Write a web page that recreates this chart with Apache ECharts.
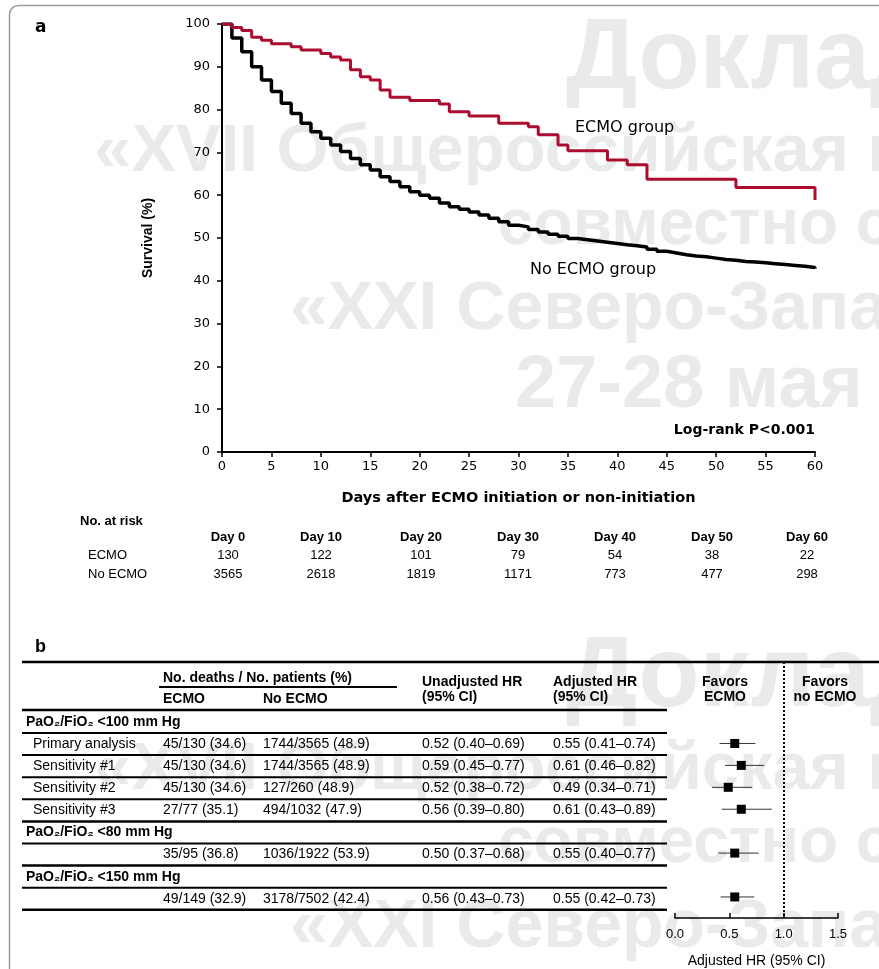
<!DOCTYPE html>
<html><head><meta charset="utf-8">
<script src="https://cdn.jsdelivr.net/npm/echarts@6/dist/echarts.min.js"></script>
<style>html,body{margin:0;padding:0;background:#fff}#c{width:879px;height:969px}</style>
</head><body><div id="c"></div>
<script>
// ---------- Panel a: Kaplan-Meier data ----------
const ecmoDays = [0,1,2,3,4,5,7,8,10,11,12,13,14,15,16,17,19,22,23,25,28,31,32,34,35,39,41,43,52,60];
const ecmoSurv = [100,99.2,98.5,96.9,96.2,95.4,94.7,93.9,93.1,92.3,91.6,89.3,87.7,86.9,84.6,82.9,82.1,81.3,79.5,78.5,76.8,76.0,74.1,71.7,70.4,68.2,67.1,63.7,61.8,58.9];
const noEcmoDays = [0,1,2,3,4,5,6,7,8,9,10,11,12,13,14,15,16,17,18,19,20,21,22,23,24,25,26,27,28,29,30,31,32,33,34,35,36,37,38,39,40,41,42,43,44,45,46,47,48,49,50,51,52,53,54,55,56,57,58,59,60];
const noEcmoSurv = [100,96.7,93.5,90.0,86.9,84.2,81.5,79.1,76.8,74.8,73.3,71.7,70.2,68.6,67.1,65.9,64.3,63.2,62.0,60.8,60.0,59.3,58.2,57.3,56.7,56.1,55.4,54.6,53.8,53.0,52.6,52.0,51.4,50.9,50.4,49.9,49.6,49.3,49.0,48.7,48.4,48.2,47.9,47.4,46.9,46.5,46.1,45.8,45.6,45.3,45.0,44.8,44.5,44.4,44.2,44.0,43.8,43.6,43.4,43.1,42.9];
const groupLabels = ['ECMO group', 'No ECMO group'];
const logRankText = 'Log-rank P<0.001';

// No. at risk table
const riskHeaders = ['Day 0','Day 10','Day 20','Day 30','Day 40','Day 50','Day 60'];
const riskRowNames = ['ECMO','No ECMO'];
const riskEcmo = [130,122,101,79,54,38,22];
const riskNoEcmo = [3565,2618,1819,1171,773,477,298];

// ---------- Panel b: forest plot data ----------
const sectionLabels = ['PaO\u2082/FiO\u2082 <100 mm Hg','PaO\u2082/FiO\u2082 <80 mm Hg','PaO\u2082/FiO\u2082 <150 mm Hg'];
const analysisLabels = ['Primary analysis','Sensitivity #1','Sensitivity #2','Sensitivity #3','',''];
const ecmoDeaths = ['45/130 (34.6)','45/130 (34.6)','45/130 (34.6)','27/77 (35.1)','35/95 (36.8)','49/149 (32.9)'];
const noEcmoDeaths = ['1744/3565 (48.9)','1744/3565 (48.9)','127/260 (48.9)','494/1032 (47.9)','1036/1922 (53.9)','3178/7502 (42.4)'];
const unadjustedHR = ['0.52 (0.40\u20130.69)','0.59 (0.45\u20130.77)','0.52 (0.38\u20130.72)','0.56 (0.39\u20130.80)','0.50 (0.37\u20130.68)','0.56 (0.43\u20130.73)'];
const adjHR = [0.55,0.61,0.49,0.61,0.55,0.55];
const adjLo = [0.41,0.46,0.34,0.43,0.40,0.42];
const adjHi = [0.74,0.82,0.71,0.89,0.77,0.73];

// ---------- layout ----------
const RED = '#ab0c2f';
const FA = '"DejaVu Sans"';
const FB = '"Liberation Sans", Arial';
const sectionRowIdx = [0,5,7];
const dataRowIdx = [1,2,3,4,6,8];
const ROW0_Y = 722, ROW_H = 22.1;
const rowY = i => ROW0_Y + i*ROW_H;
const FP_TOP = 662, FP_BOTTOM = 920;

const G = [];
function txt(x, y, text, font, align, extra) {
  G.push(Object.assign({type:'text', x:x, y:y, z:10,
    style:{text:text, font:font, fill:'#000', align:align||'left', verticalAlign:'middle',
           textAlign:align||'left', textVerticalAlign:'middle'}}, extra||{}));
}
function hline(x1, x2, y, w) {
  G.push({type:'line', z:10, shape:{x1:x1,y1:y,x2:x2,y2:y}, style:{stroke:'#000', lineWidth:w}});
}

// frame
G.push({type:'rect', z:-2, shape:{x:9.5,y:5.5,width:900,height:1000,r:[9,0,0,0]}, style:{fill:'none',stroke:'#9c9c9c',lineWidth:1.5}});

// watermark (two repeats)
const wm = [
  {t:'Доклад', x:566, y:60, s:100},
  {t:'«XVII Общероссийская н', x:94, y:153, s:67},
  {t:'совместно с', x:498, y:226, s:64},
  {t:'«XXI Северо-Запад', x:290, y:310, s:68},
  {t:'27-28 мая', x:515, y:387, s:74}
];
[0, 618].forEach(off => wm.forEach(w => {
  G.push({type:'text', x:w.x, y:w.y+off, z:-1,
    style:{text:w.t, font:'bold '+w.s+'px '+FB, fill:'#eaeaea', align:'left', verticalAlign:'middle', textAlign:'left', textVerticalAlign:'middle'}});
}));

// panel labels
txt(35, 28, 'a', 'bold 17px '+FA);
txt(35, 647, 'b', 'bold 18px '+FB);

// curve labels
txt(575, 128, groupLabels[0], '16px '+FA);
txt(530, 270, groupLabels[1], '16px '+FA);
txt(815, 430, logRankText, 'bold 14px '+FA, 'right');

// number at risk table
const riskX = [228,321,421,518,615,712,807];
txt(80, 521, 'No. at risk', 'bold 13px '+FB);
riskHeaders.forEach((h,i) => txt(riskX[i], 537, h, 'bold 13px '+FB, 'center'));
txt(88, 555, riskRowNames[0], '13px '+FB);
txt(88, 574, riskRowNames[1], '13px '+FB);
riskEcmo.forEach((v,i) => txt(riskX[i], 555, String(v), '13px '+FB, 'center'));
riskNoEcmo.forEach((v,i) => txt(riskX[i], 574, String(v), '13px '+FB, 'center'));

// forest table
const COL = {label:33, ecmo:163, noecmo:263, unadj:422, adj:553};
hline(22, 879, 662, 2.5);
hline(159, 397, 687, 2);
hline(22, 667, 710, 2.5);
for (let i = 0; i <= 8; i++) hline(22, 667, rowY(i)+11, [4,6,8].includes(i) ? 2.5 : 2);
txt(COL.ecmo, 678, 'No. deaths / No. patients (%)', 'bold 14px '+FB);
txt(COL.ecmo, 699, 'ECMO', 'bold 14px '+FB);
txt(COL.noecmo, 699, 'No ECMO', 'bold 14px '+FB);
txt(COL.unadj, 682, 'Unadjusted HR', 'bold 14px '+FB);
txt(COL.unadj, 697, '(95% CI)', 'bold 14px '+FB);
txt(COL.adj, 682, 'Adjusted HR', 'bold 14px '+FB);
txt(COL.adj, 697, '(95% CI)', 'bold 14px '+FB);
txt(725, 682, 'Favors', 'bold 14px '+FB, 'center');
txt(725, 697, 'ECMO', 'bold 14px '+FB, 'center');
txt(825, 682, 'Favors', 'bold 14px '+FB, 'center');
txt(825, 697, 'no ECMO', 'bold 14px '+FB, 'center');
sectionLabels.forEach((s,k) => txt(26, rowY(sectionRowIdx[k]), s, 'bold 14px '+FB));
dataRowIdx.forEach((r,k) => {
  const y = rowY(r);
  if (analysisLabels[k]) txt(COL.label, y, analysisLabels[k], '14px '+FB);
  txt(COL.ecmo, y, ecmoDeaths[k], '14px '+FB);
  txt(COL.noecmo, y, noEcmoDeaths[k], '14px '+FB);
  txt(COL.unadj, y, unadjustedHR[k], '14px '+FB);
  txt(COL.adj, y, adjHR[k].toFixed(2)+' ('+adjLo[k].toFixed(2)+'\u2013'+adjHi[k].toFixed(2)+')', '14px '+FB);
});

const forestData = dataRowIdx.map((r,k) => [r, adjHR[k], adjLo[k], adjHi[k]]);

const chart = echarts.init(document.getElementById('c'), null, {renderer:'canvas'});
chart.setOption({
  backgroundColor:'#fff',
  animation:false,
  grid:[
    {left:222, top:24, width:593, height:428},
    {left:675, top:FP_TOP, width:163, height:FP_BOTTOM-FP_TOP}
  ],
  xAxis:[
    {gridIndex:0, type:'value', min:0, max:60, interval:5, position:'bottom',
     axisLine:{onZero:false, lineStyle:{color:'#000', width:2}},
     axisTick:{show:true, length:5, lineStyle:{color:'#000', width:1.5}},
     axisLabel:{color:'#000', fontSize:13, fontFamily:'DejaVu Sans', margin:8},
     splitLine:{show:false},
     name:'Days after ECMO initiation or non-initiation', nameLocation:'middle', nameGap:39,
     nameTextStyle:{color:'#000', fontSize:14.5, fontWeight:'bold', fontFamily:'DejaVu Sans'}},
    {gridIndex:1, type:'value', min:0, max:1.5, interval:0.5, position:'bottom',
     axisLine:{onZero:false, lineStyle:{color:'#000', width:1.5}},
     axisTick:{show:true, inside:true, length:5, lineStyle:{color:'#000', width:1.5}},
     axisLabel:{color:'#000', fontSize:13, fontFamily:'Liberation Sans', margin:10, formatter:v => v.toFixed(1)},
     splitLine:{show:false},
     name:'Adjusted HR (95% CI)', nameLocation:'middle', nameGap:36,
     nameTextStyle:{color:'#000', fontSize:14, fontFamily:'Liberation Sans'}}
  ],
  yAxis:[
    {gridIndex:0, type:'value', min:0, max:100, interval:10,
     axisLine:{show:true, onZero:false, lineStyle:{color:'#000', width:2}},
     axisTick:{show:true, length:5, lineStyle:{color:'#000', width:1.5}},
     axisLabel:{color:'#000', fontSize:13, fontFamily:'DejaVu Sans', margin:12},
     splitLine:{show:false},
     name:'Survival (%)', nameLocation:'middle', nameGap:67, nameRotate:90,
     nameTextStyle:{color:'#000', fontSize:14, fontWeight:'bold', fontFamily:'Liberation Sans'}},
    {gridIndex:1, type:'value', inverse:true,
     min:(FP_TOP-ROW0_Y)/ROW_H, max:(FP_BOTTOM-ROW0_Y)/ROW_H, show:false}
  ],
  series:[
    {type:'line', step:'end', xAxisIndex:0, yAxisIndex:0, showSymbol:false, z:3,
     data: noEcmoDays.map((d,i) => [d, noEcmoSurv[i]]),
     lineStyle:{color:'#000', width:3.5}},
    {type:'line', step:'end', xAxisIndex:0, yAxisIndex:0, showSymbol:false, z:4,
     data: ecmoDays.map((d,i) => [d, ecmoSurv[i]]),
     lineStyle:{color:RED, width:3}},
    {type:'custom', xAxisIndex:1, yAxisIndex:1, z:5,
     data: forestData,
     encode:{x:1, y:0},
     renderItem:function(params, api){
       const r = api.value(0);
       const pL = api.coord([api.value(2), r]);
       const pH = api.coord([api.value(3), r]);
       const pC = api.coord([api.value(1), r]);
       return {type:'group', children:[
         {type:'line', shape:{x1:pL[0], y1:pL[1], x2:pH[0], y2:pH[1]}, style:{stroke:'#333', lineWidth:1}},
         {type:'rect', shape:{x:pC[0]-4.5, y:pC[1]-4.5, width:9, height:9}, style:{fill:'#000'}}
       ]};
     },
     markLine:{silent:true, symbol:'none', label:{show:false},
       lineStyle:{type:'dotted', color:'#000', width:2},
       data:[{xAxis:1}]}
    }
  ],
  graphic:G
});
</script>
</body></html>
